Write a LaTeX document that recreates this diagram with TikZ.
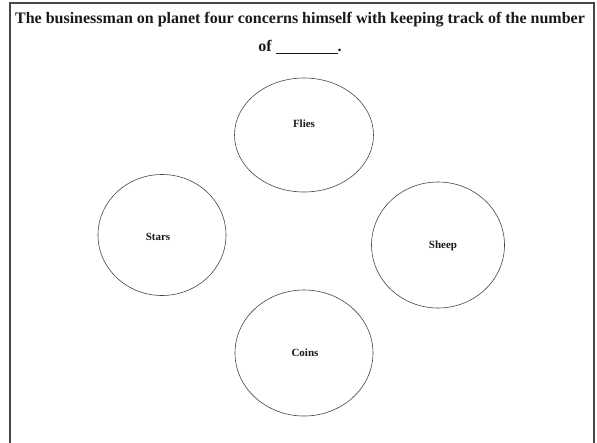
\documentclass[tikz,border=0pt]{standalone}
\usepackage{fontspec}
\setmainfont{Liberation Serif}
\usetikzlibrary{shapes.geometric,positioning}
\definecolor{rimgray}{RGB}{70,70,70}
\definecolor{inkgray}{RGB}{25,25,25}

\begin{document}
\begin{tikzpicture}[
        x=1pt,y=-1pt,
        oval/.style={draw=rimgray,ellipse,line width=0.6pt,inner sep=0pt},
        lbl/.style={font=\fontsize{11}{13}\selectfont\bfseries,text=inkgray},
        head/.style={font=\fontsize{16}{19}\selectfont\bfseries,text=inkgray},
      ]
        \useasboundingbox (0,0) rectangle (597,442);
        \draw[rimgray,line width=1.1pt] (10,445) -- (10,3) -- (594,3) -- (594,445);
        \node[head](q1) at (300,20){The businessman on planet four concerns himself with keeping track of the number};
        \node[head](q2) at (300,47){of \underline{\hspace{62pt}}.};
        % the four answer ovals
        \node[oval,minimum width=139,minimum height=114](flies) at (304,135){};
        \node[oval,minimum width=128,minimum height=121](stars) at (162,235){};
        \node[oval,minimum width=133,minimum height=126](sheep) at (438,245){};
        \node[oval,minimum width=138,minimum height=126](coins) at (304,353){};
        \node[lbl](fliestxt) at (304,124){Flies};
        \node[lbl](starstxt) at (158,237){Stars};
        \node[lbl](sheeptxt) at (443,246){Sheep};
        \node[lbl](coinstxt) at (305,353){Coins};
      \end{tikzpicture}
\end{document}
